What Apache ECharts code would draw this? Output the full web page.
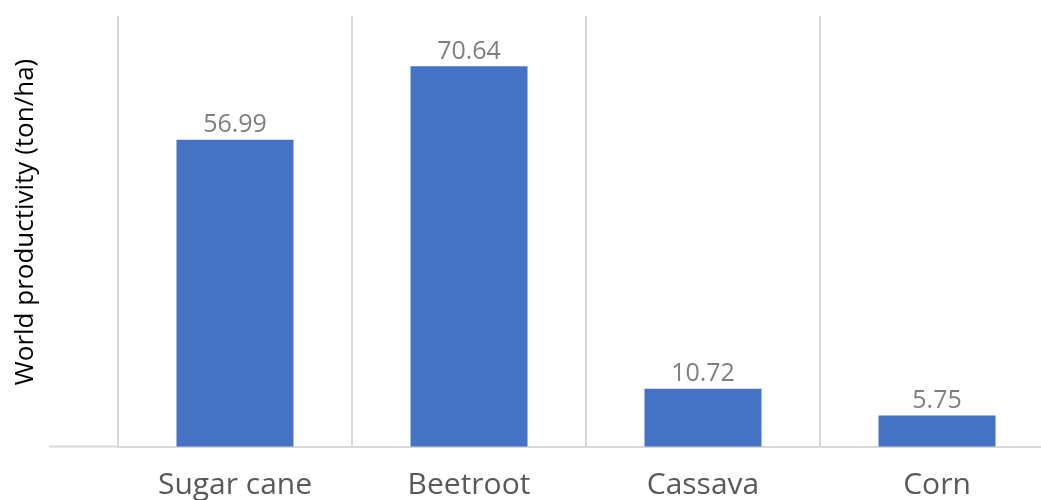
<!DOCTYPE html>
<html>
<head>
<meta charset="utf-8">
<script src="https://cdn.jsdelivr.net/npm/echarts@6/dist/echarts.min.js"></script>
<style>
  html, body { margin: 0; padding: 0; background: #ffffff; }
  #chart { width: 1041px; height: 500px; }
</style>
</head>
<body>
<div id="chart"></div>
<script>
// Crop yields, tonnes per hectare
const crops = ['Sugar cane', 'Beetroot', 'Cassava', 'Corn'];
const productivity = [56.99, 70.64, 10.72, 5.75];
const yTitle = 'World productivity (ton/ha)';

const chart = echarts.init(document.getElementById('chart'));

const GRID_LEFT = 118, GRID_TOP = 16, GRID_BOTTOM = 53.5;

chart.setOption({
  backgroundColor: '#ffffff',
  animation: false,
  grid: {
    left: GRID_LEFT, top: GRID_TOP, bottom: GRID_BOTTOM, width: 936,
    outerBoundsMode: 'none', containLabel: false
  },
  xAxis: {
    type: 'category',
    data: crops,
    boundaryGap: true,
    axisLine: { show: true, lineStyle: { color: '#d9d9d9', width: 2 } },
    axisTick: { show: false },
    axisLabel: {
      color: '#595959',
      fontFamily: 'Open Sans',
      fontSize: 30,
      margin: 24
    },
    splitLine: { show: true, lineStyle: { color: '#d9d9d9', width: 2 } }
  },
  yAxis: {
    type: 'value',
    min: 0,
    max: 80,
    axisLine: { show: false },
    axisTick: { show: false },
    axisLabel: { show: false },
    splitLine: { show: false }
  },
  series: [{
    type: 'bar',
    data: productivity,
    barWidth: '50%',
    itemStyle: { color: '#4472c4' },
    label: {
      show: true,
      position: 'top',
      distance: 2,
      color: '#7f7f7f',
      fontFamily: 'Open Sans',
      fontSize: 25,
      formatter: p => p.value.toFixed(2)
    }
  }],
  graphic: [
    // short stretch of the baseline reaching left of the first category
    {
      type: 'line',
      shape: { x1: 49, y1: 500 - GRID_BOTTOM, x2: GRID_LEFT, y2: 500 - GRID_BOTTOM },
      style: { stroke: '#d9d9d9', lineWidth: 2 },
      silent: true
    },
    // vertical axis title
    {
      type: 'text',
      x: 26,
      y: 222,
      rotation: Math.PI / 2,
      style: {
        text: yTitle,
        fill: '#000000',
        fontFamily: 'Open Sans',
        fontSize: 26,
        align: 'center',
        verticalAlign: 'middle'
      },
      silent: true
    }
  ]
});
</script>
</body>
</html>
